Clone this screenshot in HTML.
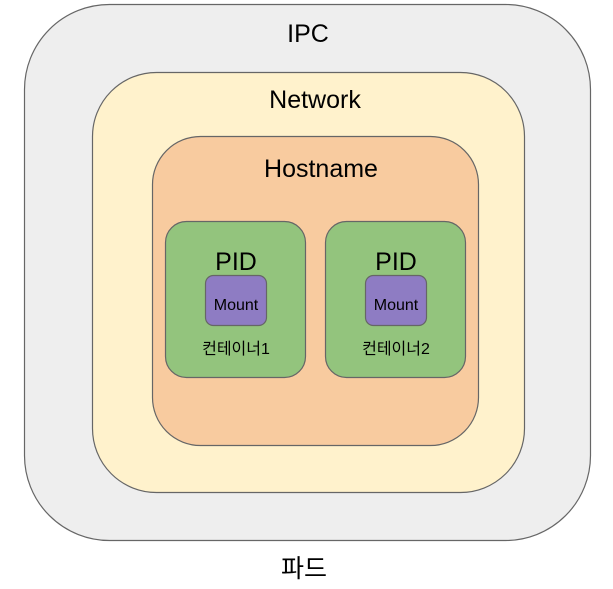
<!DOCTYPE html>
<html><head><meta charset="utf-8"><style>
html,body{margin:0;padding:0;background:#fff;}
svg{display:block;}
text{font-family:"Liberation Sans","Noto Sans CJK KR",sans-serif;fill:#000;}
</style></head><body>
<svg width="613" height="589" viewBox="0 0 613 589" xmlns="http://www.w3.org/2000/svg">
<rect x="24.5" y="4.5" width="566" height="536" rx="85" ry="85" fill="#eeeeee" stroke="#666" stroke-width="1.2"/>
<rect x="92.5" y="72.5" width="432" height="420" rx="64" ry="64" fill="#fff2cc" stroke="#666" stroke-width="1.2"/>
<rect x="152.5" y="136.5" width="326" height="309" rx="48" ry="48" fill="#f8cb9f" stroke="#666" stroke-width="1.2"/>
<rect x="165.5" y="221.5" width="140" height="156" rx="21" ry="21" fill="#93c47d" stroke="#666" stroke-width="1.2"/>
<rect x="325.5" y="221.5" width="140" height="156" rx="21" ry="21" fill="#93c47d" stroke="#666" stroke-width="1.2"/>
<rect x="205.5" y="275.5" width="61" height="50" rx="8" ry="8" fill="#8e7cc3" stroke="#666" stroke-width="1.2"/>
<rect x="365.5" y="275.5" width="61" height="50" rx="8" ry="8" fill="#8e7cc3" stroke="#666" stroke-width="1.2"/>
<text x="308" y="42" font-size="25" text-anchor="middle">IPC</text>
<text x="315" y="108" font-size="25" text-anchor="middle">Network</text>
<text x="321" y="177" font-size="25" text-anchor="middle">Hostname</text>
<text x="236" y="270" font-size="25" text-anchor="middle">PID</text>
<text x="396" y="270" font-size="25" text-anchor="middle">PID</text>
<text x="236" y="310" font-size="16" text-anchor="middle">Mount</text>
<text x="396" y="310" font-size="16" text-anchor="middle">Mount</text>
<text x="236" y="354" font-size="16" text-anchor="middle">컨테이너1</text>
<text x="396" y="354" font-size="16" text-anchor="middle">컨테이너2</text>
<text x="304" y="577" font-size="25" text-anchor="middle">파드</text>
</svg>
</body></html>
